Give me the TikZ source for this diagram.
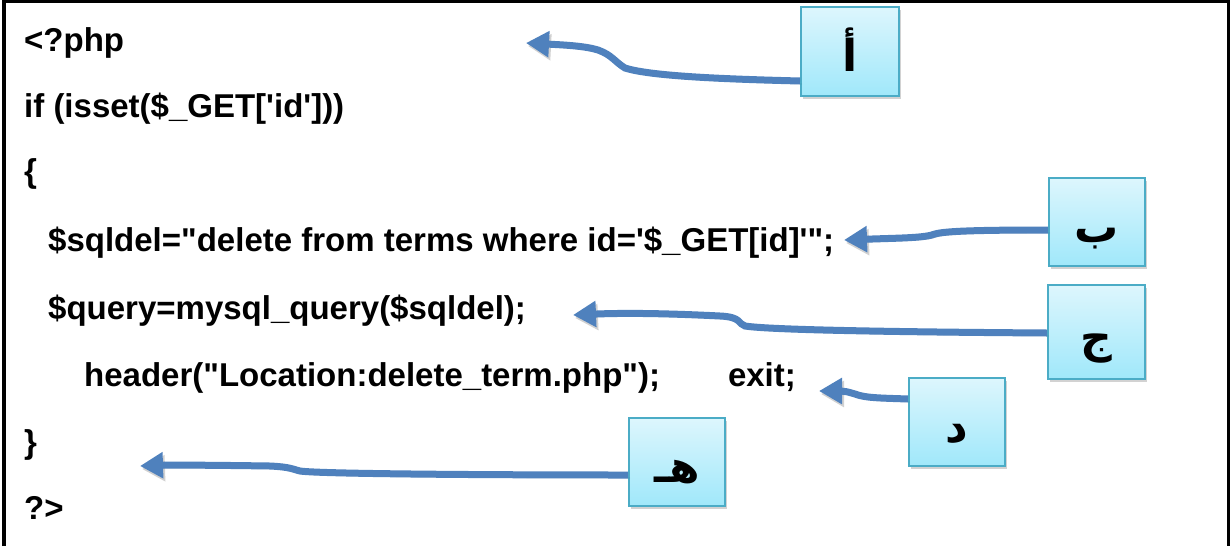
\documentclass[tikz,border=0pt]{standalone}
\usepackage{fontspec}
\newfontfamily\codefont{Liberation Sans}
\newfontfamily\arabicfont[Script=Arabic]{DejaVu Sans}
\TeXXeTstate=1
\usetikzlibrary{arrows.meta,shadows}
\definecolor{arrowblue}{RGB}{79,129,189}
\definecolor{boxtop}{RGB}{221,246,253}
\definecolor{boxbot}{RGB}{160,232,250}
\definecolor{boxline}{RGB}{75,172,198}
\begin{document}
\begin{tikzpicture}[x=1pt,y=-1pt,
  code/.style={anchor=base west, inner sep=0pt, font=\codefont\bfseries\fontsize{33}{40}\selectfont},
  labelbox/.style={draw=boxline, line width=2pt, top color=boxtop, bottom color=boxbot,
    minimum width=96pt, minimum height=88pt, inner sep=0pt, text height=40pt, text depth=0pt,
    font=\arabicfont\bfseries\fontsize{44}{50}\selectfont,
    drop shadow={shadow xshift=2pt, shadow yshift=-3pt, opacity=0.35}},
  pointer/.style={arrowblue, line width=7pt, -{Triangle[length=23pt,width=25pt]},
    preaction={draw=black, opacity=0.18, transform canvas={shift={(2pt,-3pt)}}}}]
\useasboundingbox (0,0) rectangle (1230,546);
\fill[white] (0,0) rectangle (1230,546);
% frame
\draw[line width=3.5pt] (4,546) -- (4,1.5) -- (1228.5,1.5) -- (1228.5,546);
% code lines
\node[code] (l1) at (24,51) {<?php};
\node[code] (l2) at (24,117) {if (isset(\$\_GET['id']))};
\node[code] (l3) at (24,182) {\{};
\node[code] (l4) at (48,251) {\$sqldel="delete from terms where id='\$\_GET[id]'";};
\node[code] (l5) at (48,319) {\$query=mysql\_query(\$sqldel);};
\node[code] (l6) at (84,386) {header("Location:delete\_term.php");\hspace{68pt}exit;};
\node[code] (l7) at (24,453) {\}};
\node[code] (l8) at (24,519) {?>};
% label boxes
\node[labelbox, minimum width=98pt, minimum height=89pt] (A) at (850,51.5) {\beginR أ\endR};
\node[labelbox] (B) at (1097,222) {\beginR ب\endR};
\node[labelbox, minimum width=97pt, minimum height=94pt] (C) at (1096.5,332) {\beginR ج\endR};
\node[labelbox] (D) at (957,422) {\beginR د\endR};
\node[labelbox] (E) at (677,462) {\beginR هـ\endR};
% arrow tips
\coordinate (tA) at (526,43);
\coordinate (tB) at (844,240);
\coordinate (tC) at (573,315);
\coordinate (tD) at (819,391);
\coordinate (tE) at (140,466);
% arrows
\draw[pointer] ([yshift=-29.5pt]A.west) .. controls (720,79) and (650,76) .. (625,68)
  .. controls (615,62) and (612,55) .. (598,50) .. controls (585,46) and (565,45) .. (tA);
\draw[pointer] ([yshift=-8pt]B.west) .. controls (980,230) and (945,231) .. (935,234)
  .. controls (925,238) and (900,238) .. (tB);
\draw[pointer] ([yshift=-1pt]C.west) .. controls (900,332) and (770,330) .. (745,326)
  .. controls (738,324) and (742,317) .. (720,316) .. controls (660,313) and (620,313) .. (tC);
\draw[pointer] ([yshift=23pt]D.west) .. controls (880,398) and (865,398) .. (855,394)
  .. controls (848,392) and (845,391) .. (tD);
\draw[pointer] ([yshift=-13pt]E.west) .. controls (500,475) and (320,474) .. (300,471)
  .. controls (292,469) and (290,467) .. (270,466) .. controls (200,465) and (170,465) .. (tE);
\end{tikzpicture}
\end{document}
